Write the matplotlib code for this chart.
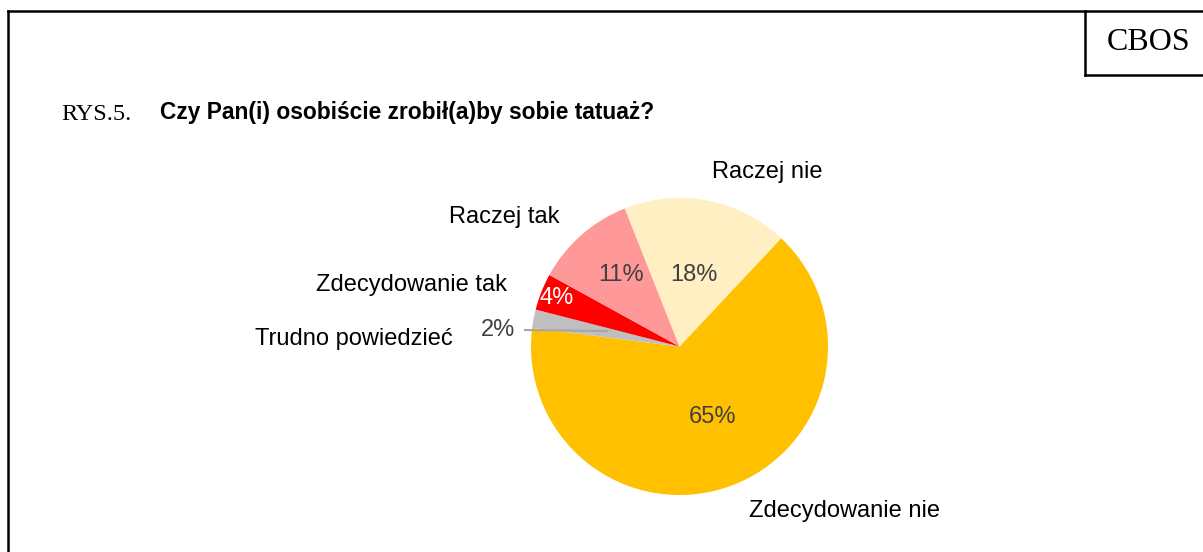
import matplotlib.pyplot as plt
from matplotlib.lines import Line2D

categories = ["Zdecydowanie nie", "Trudno powiedzieć", "Zdecydowanie tak", "Raczej tak", "Raczej nie"]
values = [65, 2, 4, 11, 18]
colors = ["#FFC000", "#BFBFBF", "#FF0000", "#FF9999", "#FFEFC2"]

# label / percentage placement (data units of the pie axes, radius = 1)
label_pos = [(1.114, -1.108), (-2.192, 0.05), (-1.808, 0.414), (-1.182, 0.872), (0.589, 1.175)]
pct_pos = [(0.219, -0.475), (-1.222, 0.111), (-0.825, 0.327), (-0.394, 0.481), (0.098, 0.481)]
pct_colors = ["#404040", "#404040", "white", "#404040", "#404040"]

W, H = 1203, 552
fig = plt.figure(figsize=(W / 100, H / 100), dpi=100)

# frame lines
lw = 1.8
fig.add_artist(Line2D([8 / W, 1], [1 - 11 / H, 1 - 11 / H], color="black", lw=lw))
fig.add_artist(Line2D([8 / W, 8 / W], [0, 1 - 11 / H], color="black", lw=lw))
fig.add_artist(Line2D([1085 / W, 1085 / W], [1 - 11 / H, 1 - 75 / H], color="black", lw=lw))
fig.add_artist(Line2D([1085 / W, 1], [1 - 75 / H, 1 - 75 / H], color="black", lw=lw))
fig.text(1149 / W, 1 - 43 / H, "CBOS", family="Liberation Serif", fontsize=23,
         ha="center", va="center")

fig.text(61 / W, 1 - 114 / H, "RYS.5.", family="Liberation Serif", fontsize=17.5, va="center")
fig.text(160 / W, 1 - 113 / H, "Czy Pan(i) osobiście zrobił(a)by sobie tatuaż?",
         family="Liberation Sans", fontsize=16.4, fontweight="bold", va="center")

r = 148.5
cx, cy = 679.5, 346.5
ax = fig.add_axes([(cx - r) / W, (H - cy - r) / H, 2 * r / W, 2 * r / H])
wedges, _ = ax.pie(values, colors=colors, startangle=46.8, counterclock=False, radius=1)
ax.set_xlim(-1, 1)
ax.set_ylim(-1, 1)
ax.set_aspect("equal")
ax.axis("off")

for cat, v, lp, pp, pc in zip(categories, values, label_pos, pct_pos, pct_colors):
    ax.text(lp[0], lp[1], cat, ha="center", va="center", fontsize=17,
            family="Liberation Sans", color="black", clip_on=False)
    ax.text(pp[0], pp[1], f"{v}%", ha="center", va="center", fontsize=17,
            family="Liberation Sans", color=pc, clip_on=False)

# leader line for the small slice
ax.plot([-1.04, -0.488], [0.111, 0.104], color="#A6A6A6", lw=1.5, clip_on=False)

fig.savefig("out.png", dpi=100)
